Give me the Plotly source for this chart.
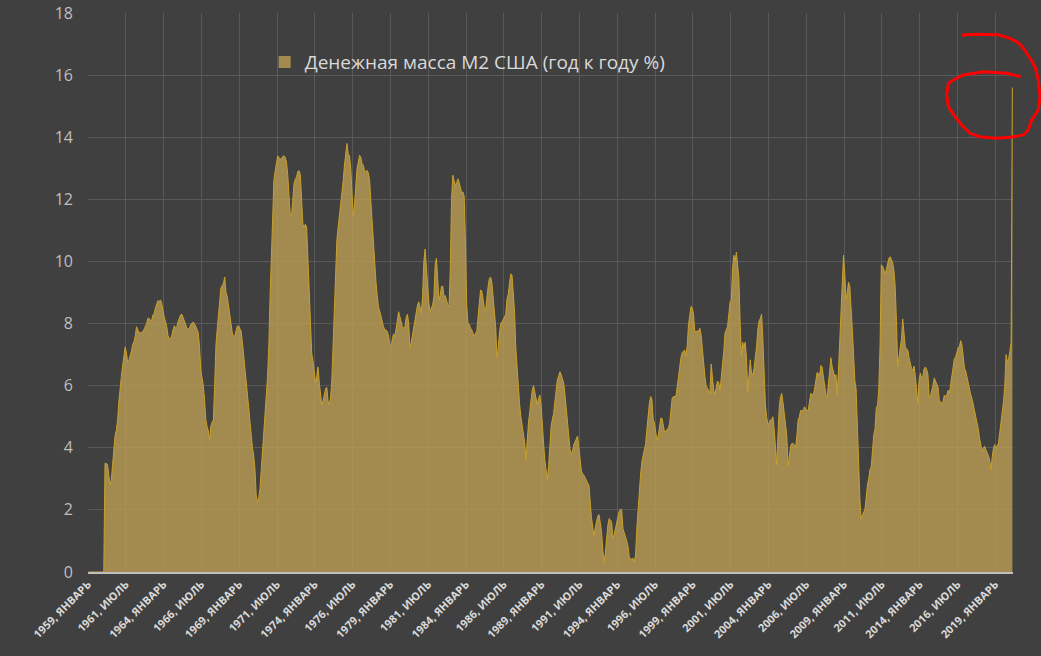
import plotly.graph_objects as go

series_name = "Денежная масса M2 США (год к году %)"

tick_labels = [
    "1959, ЯНВАРЬ", "1961, ИЮЛЬ", "1964, ЯНВАРЬ", "1966, ИЮЛЬ", "1969, ЯНВАРЬ",
    "1971, ИЮЛЬ", "1974, ЯНВАРЬ", "1976, ИЮЛЬ", "1979, ЯНВАРЬ", "1981, ИЮЛЬ",
    "1984, ЯНВАРЬ", "1986, ИЮЛЬ", "1989, ЯНВАРЬ", "1991, ИЮЛЬ", "1994, ЯНВАРЬ",
    "1996, ИЮЛЬ", "1999, ЯНВАРЬ", "2001, ИЮЛЬ", "2004, ЯНВАРЬ", "2006, ИЮЛЬ",
    "2009, ЯНВАРЬ", "2011, ИЮЛЬ", "2014, ЯНВАРЬ", "2016, ИЮЛЬ", "2019, ЯНВАРЬ",
]
months_per_label = 30

# monthly values, one row per year, starting January 1959
m2_yoy = [
    0, 0, 0, 0, 0, 0, 0, 0, 0, 0, 0, 0,                                   # 1959
    0, 3.5, 3.5, 3.45, 3.0, 2.8, 2.96, 3.4, 4.0, 4.4, 4.57, 4.9,           # 1960
    5.5, 6.05, 6.3, 6.65, 7.05, 7.25, 7.05, 6.75, 6.82, 6.95, 7.12, 7.33,  # 1961
    7.42, 7.6, 7.9, 7.8, 7.72, 7.7, 7.71, 7.74, 7.82, 7.9, 8.0, 8.17,      # 1962
    8.17, 8.1, 8.1, 8.28, 8.32, 8.5, 8.67, 8.74, 8.7, 8.76, 8.65, 8.38,    # 1963
    8.2, 8.07, 7.9, 7.62, 7.5, 7.52, 7.62, 7.8, 7.93, 7.86, 7.9, 8.07,     # 1964
    8.16, 8.28, 8.3, 8.2, 8.07, 7.95, 7.85, 7.82, 7.85, 7.97, 8.03, 8.05,  # 1965
    8.0, 7.93, 7.82, 7.7, 7.26, 6.5, 6.25, 6.0, 5.55, 4.9, 4.68, 4.55,     # 1966
    4.25, 4.7, 4.82, 4.9, 6.0, 7.3, 7.8, 8.2, 8.65, 9.15, 9.22, 9.3,       # 1967
    9.5, 9.0, 8.87, 8.6, 8.2, 7.95, 7.7, 7.58, 7.6, 7.77, 7.92, 7.92,      # 1968
    7.85, 7.76, 7.4, 7.0, 6.65, 6.29, 5.85, 5.3, 4.85, 4.36, 4.0, 3.75,    # 1969
    3.3, 2.45, 2.25, 2.4, 2.7, 3.3, 4.0, 4.65, 5.15, 5.7, 6.3, 7.3,        # 1970
    8.9, 10.1, 11.8, 12.6, 12.9, 13.2, 13.4, 13.35, 13.3, 13.3, 13.38, 13.4,   # 1971
    13.35, 13.2, 12.8, 12.1, 11.5, 11.45, 12.1, 12.5, 12.65, 12.72, 12.9, 12.92,  # 1972
    12.8, 11.7, 11.2, 11.1, 11.2, 11.1, 10.2, 9.0, 8.0, 7.04, 6.8, 6.4,    # 1973
    6.1, 6.3, 6.6, 6.1, 5.7, 5.38, 5.5, 5.7, 5.9, 5.95, 5.5, 5.4,          # 1974
    5.6, 6.2, 7.4, 8.6, 9.7, 10.7, 11.1, 11.45, 11.85, 12.2, 12.6, 13.1,   # 1975
    13.5, 13.8, 13.45, 13.4, 13.0, 12.3, 11.45, 11.85, 12.5, 13.0, 13.2, 13.42,   # 1976
    13.35, 13.15, 13.1, 12.9, 12.9, 12.93, 12.84, 12.6, 11.9, 11.2, 10.85, 10.0,  # 1977
    9.35, 8.9, 8.53, 8.4, 8.2, 8.05, 7.9, 7.8, 7.79, 7.75, 7.6, 7.3,       # 1978
    7.26, 7.5, 7.67, 7.58, 7.9, 8.2, 8.38, 8.22, 8.0, 7.9, 7.85, 7.9,      # 1979
    8.2, 8.3, 8.0, 7.2, 7.4, 7.65, 7.9, 8.22, 8.35, 8.6, 8.7, 8.45,        # 1980
    8.35, 8.9, 10.0, 10.4, 9.75, 9.2, 8.65, 8.4, 8.48, 8.6, 8.87, 9.9,     # 1981
    10.1, 9.5, 8.76, 8.9, 9.2, 9.2, 8.87, 8.9, 8.7, 8.6, 8.55, 9.8,        # 1982
    12.0, 12.78, 12.6, 12.47, 12.52, 12.66, 12.55, 12.38, 12.2, 12.24, 12.1, 10.6,  # 1983
    8.6, 8.0, 7.98, 7.86, 7.8, 7.68, 7.58, 7.69, 7.75, 8.2, 8.7, 9.08,     # 1984
    9.05, 8.75, 8.5, 8.4, 8.85, 9.2, 9.45, 9.5, 9.3, 8.8, 8.3, 7.9,        # 1985
    6.9, 7.2, 7.7, 8.0, 8.05, 8.12, 8.2, 8.3, 8.8, 8.95, 9.3, 9.6,         # 1986
    9.55, 8.98, 8.35, 7.2, 6.5, 5.9, 5.4, 5.0, 4.7, 4.43, 4.17, 3.6,       # 1987
    4.4, 4.8, 5.15, 5.55, 5.85, 6.0, 5.8, 5.6, 5.4, 5.58, 5.7, 5.4,        # 1988
    4.55, 4.15, 3.6, 3.2, 2.98, 3.4, 4.1, 4.7, 4.92, 5.1, 5.5, 5.9,        # 1989
    6.2, 6.32, 6.45, 6.35, 6.2, 6.08, 5.7, 5.3, 4.85, 4.36, 3.95, 3.8,     # 1990
    3.9, 4.1, 4.18, 4.3, 4.38, 4.0, 3.5, 3.25, 3.16, 3.12, 3.04, 2.92,     # 1991
    2.86, 2.8, 2.2, 1.75, 1.45, 1.15, 1.42, 1.65, 1.8, 1.85, 1.62, 1.3,    # 1992
    0.7, 0.3, 0.6, 1.2, 1.5, 1.72, 1.68, 1.6, 1.1, 1.2, 1.4, 1.58,         # 1993
    1.76, 1.95, 2.02, 2.0, 1.4, 1.28, 1.15, 1.0, 0.82, 0.5, 0.4, 0.42,     # 1994
    0.44, 0.33, 0.55, 1.4, 2.05, 2.6, 3.15, 3.55, 3.78, 3.9, 4.14, 4.6,    # 1995
    5.1, 5.45, 5.65, 5.55, 4.9, 4.8, 4.5, 4.25, 4.38, 4.72, 4.95, 4.95,    # 1996
    4.76, 4.5, 4.53, 4.6, 4.64, 4.77, 5.3, 5.58, 5.65, 5.65, 5.65, 5.95,   # 1997
    6.33, 6.5, 6.9, 7.07, 7.1, 7.15, 6.95, 7.3, 7.95, 8.33, 8.55, 8.5,     # 1998
    8.3, 7.74, 7.74, 7.74, 7.76, 7.85, 7.63, 7.2, 6.7, 6.3, 6.0, 5.9,      # 1999
    5.8, 5.75, 6.7, 6.3, 5.85, 5.72, 5.95, 6.15, 6.1, 5.85, 6.25, 6.6,     # 2000
    7.1, 7.7, 7.79, 7.9, 8.3, 8.7, 8.76, 9.8, 10.2, 10.0, 10.3, 9.7,       # 2001
    9.45, 8.0, 6.95, 7.4, 7.2, 7.4, 6.9, 5.8, 6.5, 6.83, 6.4, 6.35,        # 2002
    6.55, 6.83, 7.25, 7.8, 8.08, 8.17, 8.3, 7.5, 6.4, 5.4, 5.0, 4.75,      # 2003
    4.78, 4.9, 4.9, 5.0, 4.6, 3.85, 3.45, 4.4, 5.3, 5.65, 5.75, 5.45,      # 2004
    5.15, 4.8, 4.4, 3.4, 3.8, 4.05, 4.14, 4.14, 4.1, 4.0, 4.4, 4.9,        # 2005
    5.0, 5.2, 5.2, 5.18, 5.32, 5.27, 5.2, 5.2, 5.48, 5.75, 5.72, 5.7,      # 2006
    5.88, 6.25, 6.42, 6.4, 6.3, 6.65, 6.6, 6.3, 5.95, 5.72, 5.62, 6.0,     # 2007
    6.55, 6.9, 6.6, 6.4, 6.3, 6.35, 5.7, 6.5, 7.4, 8.2, 9.3, 10.2,         # 2008
    9.62, 8.8, 9.0, 9.33, 9.2, 8.6, 7.8, 7.0, 6.15, 5.9, 4.5, 3.1,         # 2009
    2.35, 1.7, 1.85, 1.94, 2.0, 2.55, 2.8, 3.0, 3.3, 3.38, 3.9, 4.43,      # 2010
    4.6, 5.3, 5.36, 5.9, 7.3, 9.89, 9.85, 9.7, 9.6, 9.73, 9.9, 10.1,       # 2011
    10.15, 10.05, 9.96, 9.7, 9.2, 8.1, 6.6, 6.9, 7.3, 7.5, 8.15, 7.6,      # 2012
    7.25, 7.19, 7.15, 6.9, 6.75, 6.55, 6.5, 6.63, 6.3, 5.75, 5.43, 6.2,    # 2013
    6.4, 6.23, 6.3, 6.55, 6.6, 6.52, 6.35, 5.6, 5.65, 5.85, 6.0, 6.25,     # 2014
    6.15, 6.05, 5.95, 5.55, 5.45, 5.45, 5.5, 5.7, 5.65, 5.7, 5.85, 5.75,   # 2015
    6.0, 6.35, 6.6, 6.88, 6.92, 7.05, 7.22, 7.26, 7.45, 7.3, 7.0, 6.56,    # 2016
    6.47, 6.25, 6.1, 5.9, 5.7, 5.58, 5.4, 5.2, 5.02, 4.85, 4.6, 4.3,       # 2017
    4.1, 3.88, 4.0, 4.05, 3.93, 3.85, 3.75, 3.6, 3.28, 3.7, 4.0, 4.1,      # 2018
    3.98, 4.07, 4.15, 4.5, 4.8, 5.2, 5.5, 6.0, 7.0, 6.75, 6.85, 7.1,       # 2019
    7.4, 15.6,                                                             # 2020
]

n = len(m2_yoy)
months = list(range(n))
tick_positions = [k * months_per_label - 0.5 for k in range(len(tick_labels))]

BG = "#404040"
GRID = "#595959"
FILL = "rgba(188,158,82,0.80)"
LINE = "#c9a02a"

fig = go.Figure()
fig.add_trace(go.Scatter(
    x=months, y=m2_yoy, mode="lines", fill="tozeroy",
    line=dict(color=LINE, width=1), fillcolor=FILL,
    showlegend=False, hoverinfo="skip",
))
# legend proxy (square swatch)
fig.add_trace(go.Bar(x=[None], y=[None], name=series_name,
                     marker=dict(color="#a38b4f", line=dict(width=0))))

W, H = 1041, 656
ML, MR, MT, MB = 88, 28, 13, 84
pw, ph = W - ML - MR, H - MT - MB

# hand-drawn red loop (pixel coordinates of the page)
loop_px = [
    (961.7, 35), (976.7, 34.3), (998.3, 34.7), (1010, 38.3), (1018.3, 42.7),
    (1023.3, 48.3), (1030, 58.3), (1035, 66.7), (1038.3, 80), (1040, 96.7),
    (1038.3, 110), (1031.7, 120), (1028.3, 130), (1023.3, 135), (1010, 137.3),
    (996.7, 138.3), (980, 136.7), (970, 133.3), (961.7, 125), (955, 116.7),
    (948.3, 106.7), (946.7, 95), (948.3, 83.3), (953.3, 80), (963.3, 75),
    (983.3, 71.7), (1006.7, 73.3), (1020.7, 76.7),
]
pts = [((px - ML) / pw, (H - MB - py) / ph) for px, py in loop_px]
path = "M " + " L ".join(f"{x:.4f},{y:.4f}" for x, y in pts)

fig.update_layout(
    width=W, height=H,
    margin=dict(l=ML, r=MR, t=MT, b=MB, autoexpand=False),
    paper_bgcolor=BG, plot_bgcolor=BG,
    font=dict(family="Open Sans, Noto Sans, sans-serif", color="#d9d9d9"),
    showlegend=True,
    legend=dict(orientation="h", x=0.191, xanchor="left", y=0.912, yanchor="middle",
                bgcolor="rgba(0,0,0,0)", font=dict(size=19, color="#d9d9d9"),
                itemwidth=30),
    shapes=[dict(type="path", xref="paper", yref="paper", path=path,
                 line=dict(color="#ff0000", width=3))],
    xaxis=dict(
        range=[-0.5, n - 0.5], tickmode="array", tickvals=tick_positions,
        ticktext=tick_labels, tickangle=-45, automargin=False,
        tickfont=dict(size=11, color="#d9d9d9", family="Open Sans, sans-serif", weight="bold"),
        showgrid=True, gridcolor=GRID, gridwidth=1,
        showline=True, linecolor="#bfbfbf", linewidth=1.5,
        zeroline=False, ticks="", fixedrange=True,
    ),
    yaxis=dict(
        range=[0, 18], dtick=2, tick0=0, automargin=False,
        tickfont=dict(size=16, color="#bfbfbf"),
        showgrid=True, gridcolor=GRID, gridwidth=1,
        zeroline=False, showline=False, ticks="", ticklabelstandoff=14,
        fixedrange=True,
    ),
)

fig.write_html(
    "out.html",
    config={"displayModeBar": False},
    post_script="document.body.style.margin='0px';document.body.style.background='#404040';",
)
